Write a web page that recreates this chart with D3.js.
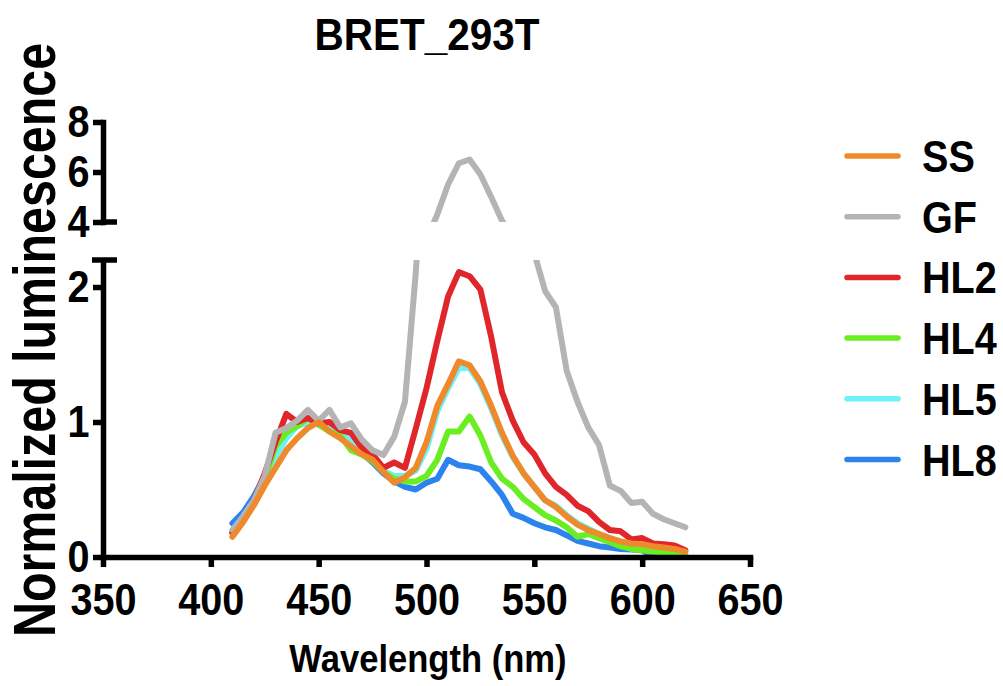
<!DOCTYPE html>
<html>
<head>
<meta charset="utf-8">
<script src="https://cdn.jsdelivr.net/npm/d3@7"></script>
<style>
  body { margin: 0; background: #fff; }
  text { font-family: "Liberation Sans", Arial, sans-serif; font-weight: bold; fill: #000; }
</style>
</head>
<body>
<svg id="chart" width="1003" height="686"></svg>
<script>
// wavelengths (nm) and series
let wavelengths = [410,415,420,425,430,435,440,445,450,455,460,465,470,475,480,485,490,495,500,505,510,515,520,525,530,535,540,545,550,555,560,565,570,575,580,585,590,595,600,605,610,615,620];

let SS  = [0.15,0.26,0.385,0.53,0.66,0.79,0.88,0.955,1.0,0.93,0.88,0.82,0.76,0.72,0.63,0.55,0.59,0.66,0.85,1.12,1.28,1.45,1.42,1.3,1.12,0.92,0.75,0.62,0.52,0.42,0.37,0.3,0.24,0.2,0.17,0.14,0.115,0.1,0.095,0.08,0.07,0.06,0.04];
let GF  = [0.2,0.3,0.42,0.6,0.92,0.955,1.01,1.09,1.01,1.09,0.96,0.99,0.87,0.79,0.755,0.89,1.15,2.1,3.3,4.3,5.5,6.35,6.5,5.9,5.0,4.05,3.4,2.8,2.25,1.97,1.85,1.38,1.15,0.96,0.83,0.53,0.49,0.4,0.41,0.32,0.28,0.25,0.22];
let HL2 = [0.18,0.28,0.42,0.62,0.85,1.06,1.0,1.03,0.99,1.0,0.94,0.92,0.81,0.76,0.66,0.7,0.66,0.95,1.25,1.6,1.93,2.11,2.08,1.98,1.63,1.22,1.01,0.85,0.76,0.62,0.52,0.46,0.38,0.34,0.26,0.2,0.19,0.13,0.14,0.1,0.095,0.085,0.05];
let HL4 = [0.18,0.28,0.4,0.58,0.82,0.92,0.97,1.03,0.98,0.93,0.9,0.79,0.76,0.71,0.63,0.58,0.56,0.56,0.6,0.72,0.93,0.93,1.04,0.9,0.7,0.58,0.52,0.43,0.37,0.31,0.27,0.22,0.15,0.17,0.14,0.11,0.08,0.06,0.05,0.04,0.035,0.03,0.02];
let HL5 = [0.2,0.3,0.42,0.57,0.74,0.88,0.97,1.0,1.0,0.98,0.93,0.86,0.78,0.72,0.64,0.6,0.6,0.64,0.8,1.08,1.25,1.4,1.4,1.28,1.1,0.9,0.74,0.62,0.52,0.42,0.38,0.31,0.25,0.21,0.17,0.14,0.11,0.09,0.08,0.07,0.06,0.05,0.03];
let HL8 = [0.25,0.33,0.45,0.6,0.78,0.9,0.97,1.0,1.0,0.97,0.9,0.84,0.77,0.7,0.62,0.56,0.52,0.5,0.55,0.58,0.72,0.68,0.67,0.65,0.56,0.46,0.32,0.29,0.25,0.22,0.2,0.16,0.12,0.1,0.08,0.07,0.06,0.055,0.05,0.0,0.025,0.02,0.01];

let seriesNames = ["SS", "GF", "HL2", "HL4", "HL5", "HL8"];
let seriesValues = [SS, GF, HL2, HL4, HL5, HL8];
let colors = ["#ef8a2c", "#b4b4b4", "#e0252b", "#6aee22", "#6ff0f6", "#2b83ee"];

let xTicks = [350, 400, 450, 500, 550, 600, 650];
let yTicksLow = [0, 1, 2];
let yTicksHigh = [4, 6, 8];

let svg = d3.select("#chart");
svg.append("rect").attr("width", 1003).attr("height", 686).attr("fill", "#fff");

// scales - broken y axis, two segments
let x = d3.scaleLinear().domain([350, 650]).range([103, 750]);
let yLow = d3.scaleLinear().domain([0, 2.2]).range([557, 260]);
let yHigh = d3.scaleLinear().domain([4, 8]).range([222, 122]);

let defs = svg.append("defs");
defs.append("clipPath").attr("id", "clipLow")
  .append("rect").attr("x", 0).attr("y", yLow(2.2)).attr("width", 1003).attr("height", 686 - yLow(2.2));
defs.append("clipPath").attr("id", "clipHigh")
  .append("rect").attr("x", 0).attr("y", 0).attr("width", 1003).attr("height", yHigh(4));

let data = seriesNames.map((name, i) => ({
  name: name,
  color: colors[i],
  points: wavelengths.map((w, j) => ({ w: w, v: seriesValues[i][j] }))
}));

let lineLow = d3.line().x(d => x(d.w)).y(d => yLow(d.v));
let lineHigh = d3.line().x(d => x(d.w)).y(d => yHigh(d.v));

// first series on top, so draw in reverse
let drawOrder = data.slice().reverse();

[["clipLow", lineLow], ["clipHigh", lineHigh]].forEach(([clip, gen]) => {
  svg.append("g")
      .attr("clip-path", "url(#" + clip + ")")
    .selectAll("path")
    .data(drawOrder)
    .enter().append("path")
      .attr("d", d => gen(d.points))
      .attr("fill", "none")
      .attr("stroke", d => d.color)
      .attr("stroke-width", 6)
      .attr("stroke-linejoin", "round")
      .attr("stroke-linecap", "round");
});

// axes
function styleAxis(g) {
  g.select(".domain").attr("stroke-width", 5.5).attr("stroke-linecap", "square");
  g.selectAll(".tick line").attr("stroke-width", 5.5);
  g.selectAll(".tick text")
    .style("font-size", "44px")
    .attr("fill", "#000")
    .attr("transform", "scale(0.9,1)");
}

let xAxis = svg.append("g")
    .attr("transform", "translate(0," + yLow(0) + ")")
    .call(d3.axisBottom(x).tickValues(xTicks).tickSize(10).tickSizeOuter(0).tickPadding(17));
styleAxis(xAxis);

let yAxisLow = svg.append("g")
    .attr("transform", "translate(" + x(350) + ",0)")
    .call(d3.axisLeft(yLow).tickValues(yTicksLow).tickFormat(d3.format("d"))
      .tickSize(10).tickSizeOuter(0).tickPadding(5));
styleAxis(yAxisLow);
yAxisLow.select(".domain").attr("stroke-linecap", "butt");

let yAxisHigh = svg.append("g")
    .attr("transform", "translate(" + x(350) + ",0)")
    .call(d3.axisLeft(yHigh).tickValues(yTicksHigh).tickFormat(d3.format("d"))
      .tickSize(10).tickSizeOuter(0).tickPadding(5));
styleAxis(yAxisHigh);

// break caps
svg.append("line")
  .attr("x1", x(350) - 11).attr("x2", x(350) + 14)
  .attr("y1", yLow(2.2)).attr("y2", yLow(2.2))
  .attr("stroke", "#000").attr("stroke-width", 5.5);
svg.append("line")
  .attr("x1", x(350)).attr("x2", x(350) + 14)
  .attr("y1", yHigh(4)).attr("y2", yHigh(4))
  .attr("stroke", "#000").attr("stroke-width", 5.5);

// titles
svg.append("text")
  .attr("transform", "translate(427,50) scale(0.9,1)")
  .attr("text-anchor", "middle")
  .style("font-size", "45px")
  .text("BRET_293T");

svg.append("text")
  .attr("transform", "translate(428,672) scale(0.91,1)")
  .attr("text-anchor", "middle")
  .style("font-size", "38px")
  .text("Wavelength (nm)");

svg.append("text")
  .attr("transform", "translate(55,340) rotate(-90) scale(0.82,1)")
  .attr("text-anchor", "middle")
  .style("font-size", "59px")
  .text("Normalized luminescence");

// legend
let legend = svg.selectAll(".legend")
  .data(data)
  .enter().append("g")
    .attr("class", "legend")
    .attr("transform", (d, i) => "translate(847," + (156 + i * 60.7) + ")");

legend.append("line")
  .attr("x1", 0).attr("x2", 51)
  .attr("stroke", d => d.color)
  .attr("stroke-width", 5.5)
  .attr("stroke-linecap", "round");

legend.append("text")
  .attr("transform", "translate(75,16) scale(0.9,1)")
  .style("font-size", "44px")
  .text(d => d.name);
</script>
</body>
</html>
